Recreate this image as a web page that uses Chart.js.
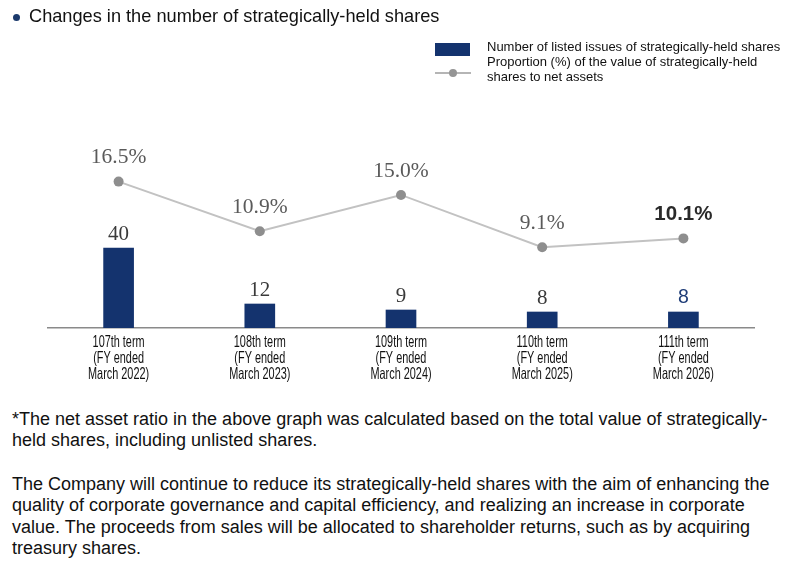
<!DOCTYPE html>
<html>
<head>
<meta charset="utf-8">
<script src="https://cdn.jsdelivr.net/npm/chart.js@4"></script>
<style>
  body { margin: 0; background: #fff; font-family: "Liberation Sans", Arial, sans-serif; color: #111; }
  #wrap { position: relative; width: 800px; height: 572px; overflow: hidden; }
  #title { position: absolute; left: 29px; top: 6px; font-size: 18.2px; white-space: nowrap; }
  #bullet { position: absolute; left: 13px; top: 14px; width: 7px; height: 7px; border-radius: 50%; background: #1b3a6c; }
  #legend_bar { position: absolute; left: 435px; top: 43px; width: 35px; height: 13px; background: #14336e; }
  #legend_line { position: absolute; left: 435px; top: 72px; width: 36px; height: 1.5px; background: #b5b5b5; }
  #legend_dot { position: absolute; left: 449px; top: 69px; width: 8px; height: 8px; border-radius: 50%; background: #959595; }
  #legend_text { position: absolute; left: 487px; top: 38.5px; font-size: 13px; line-height: 15px; white-space: nowrap; }
  #chart_box { position: absolute; left: 0; top: 0; width: 800px; height: 400px; }
  .note { position: absolute; left: 12px; font-size: 18px; line-height: 21.3px; white-space: nowrap; }
</style>
</head>
<body>
<div id="wrap">
  <div id="chart_box"><canvas id="myChart"></canvas></div>
  <div id="bullet"></div>
  <div id="title">Changes in the number of strategically-held shares</div>
  <div id="legend_bar"></div>
  <div id="legend_line"></div>
  <div id="legend_dot"></div>
  <div id="legend_text">Number of listed issues of strategically-held shares<br>Proportion (%) of the value of strategically-held<br>shares to net assets</div>
  <div class="note" style="top:409px">*The net asset ratio in the above graph was calculated based on the total value of strategically-<br>held shares, including unlisted shares.</div>
  <div class="note" style="top:474px">The Company will continue to reduce its strategically-held shares with the aim of enhancing the<br>quality of corporate governance and capital efficiency, and realizing an increase in corporate<br>value. The proceeds from sales will be allocated to shareholder returns, such as by acquiring<br>treasury shares.</div>
</div>
<script>
// 데이터
const term_labels = [
  ["107th term", "(FY ended", "March 2022)"],
  ["108th term", "(FY ended", "March 2023)"],
  ["109th term", "(FY ended", "March 2024)"],
  ["110th term", "(FY ended", "March 2025)"],
  ["111th term", "(FY ended", "March 2026)"]
];
const listed_issues = [40, 12, 9, 8, 8];
const net_asset_ratio = [16.5, 10.9, 15.0, 9.1, 10.1];
const latest_index = 4; // 마지막 기간은 다른 글씨체로 표시

const navy = "#14336e";

// 막대/점 위에 값 표시
const value_labels = {
  id: "value_labels",
  afterDatasetsDraw(chart) {
    const ctx = chart.ctx;
    ctx.save();
    ctx.textAlign = "center";
    ctx.textBaseline = "middle";
    chart.getDatasetMeta(0).data.forEach(function (bar, i) {
      if (i == latest_index) {
        ctx.font = "19.5px 'Liberation Sans', Arial, sans-serif";
        ctx.fillStyle = "#1f3d78";
      } else {
        ctx.font = "21px 'Liberation Serif', 'Times New Roman', serif";
        ctx.fillStyle = "#3a3a3a";
      }
      ctx.fillText(String(listed_issues[i]), bar.x, bar.y - 14);
    });
    chart.getDatasetMeta(1).data.forEach(function (pt, i) {
      if (i == latest_index) {
        ctx.font = "bold 20.5px 'Liberation Sans', Arial, sans-serif";
        ctx.fillStyle = "#2a2a2a";
      } else {
        ctx.font = "21.5px 'Liberation Serif', 'Times New Roman', serif";
        ctx.fillStyle = "#5a5a5a";
      }
      ctx.fillText(net_asset_ratio[i].toFixed(1) + "%", pt.x, pt.y - 24);
    });
    ctx.restore();
  }
};

// x축 글자 (좁은 글씨체가 없어서 가로로 줄여서 그림)
const term_ticks = {
  id: "term_ticks",
  afterDraw(chart) {
    const ctx = chart.ctx;
    const x_scale = chart.scales.x;
    ctx.save();
    ctx.font = "16.5px 'Liberation Sans', Arial, sans-serif";
    ctx.fillStyle = "#111";
    ctx.textAlign = "center";
    ctx.textBaseline = "middle";
    term_labels.forEach(function (lines, i) {
      const x = x_scale.getPixelForValue(i);
      lines.forEach(function (line, j) {
        ctx.save();
        ctx.translate(x, x_scale.top + 14 + j * 16.2);
        ctx.scale(0.66, 1);
        ctx.fillText(line, 0, 0);
        ctx.restore();
      });
    });
    ctx.restore();
  }
};

const ctx = document.getElementById("myChart").getContext("2d");
new Chart(ctx, {
  type: "bar",
  data: {
    labels: term_labels,
    datasets: [
      {
        label: "Number of listed issues of strategically-held shares",
        data: listed_issues,
        backgroundColor: navy,
        barThickness: 30,
        yAxisID: "y",
        order: 2
      },
      {
        type: "line",
        label: "Proportion (%) of the value of strategically-held shares to net assets",
        data: net_asset_ratio,
        borderColor: "#c2c2c2",
        borderWidth: 2,
        pointRadius: 5,
        pointBackgroundColor: "#8e8e8e",
        pointBorderWidth: 0,
        tension: 0,
        yAxisID: "y1",
        order: 1
      }
    ]
  },
  options: {
    responsive: true,
    maintainAspectRatio: false,
    animation: false,
    events: [],
    layout: { padding: { left: 48, right: 46, top: 100, bottom: 10 } },
    scales: {
      x: {
        grid: { display: false },
        border: { display: true, color: "#8a8a8a", width: 1.5 },
        ticks: { display: false },
        afterFit: function (scale) { scale.height = 62; }
      },
      y: { display: false, min: 0, max: 114 },
      y1: { display: false, min: 0, max: 25.7, position: "right" }
    },
    plugins: {
      legend: { display: false },
      tooltip: { enabled: false }
    }
  },
  plugins: [value_labels, term_ticks]
});
</script>
</body>
</html>
